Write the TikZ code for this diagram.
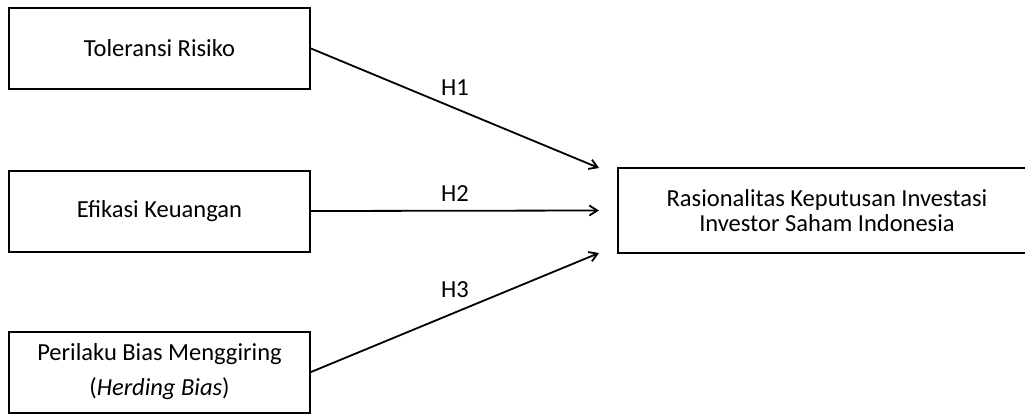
\documentclass[tikz,border=0pt]{standalone}
\usepackage{fontspec}
\setmainfont{Carlito}
\usetikzlibrary{positioning, arrows.meta}

\begin{document}
\begin{tikzpicture}[
    x=0.5pt, y=-0.5pt,
    >={Straight Barb[length=4pt,width=5pt]},
    varbox/.style={
        draw, line width=1pt, inner sep=0pt, align=center,
        minimum width=150.5pt, minimum height=40.5pt,
        font=\fontsize{12.25}{17.5}\selectfont
    },
    % hypothesis arrows
    hyp/.style={->, line width=0.9pt},
    hyplbl/.style={font=\fontsize{12.25}{14}\selectfont, inner sep=4pt},
]
\useasboundingbox (0,0) rectangle (1025,414);
\clip (0,0) rectangle (1025,414);

%% independent variables (left)
\node[varbox] at (159.5, 48.5) (risk) {Toleransi Risiko};
\node[varbox] at (159.5, 211) (efik) {Efikasi Keuangan};
\node[varbox] at (159.5, 372) (herd) {Perilaku Bias Menggiring\\(\textit{Herding Bias})};

%% dependent variable (right), its frame runs off the page edge
\node[varbox, draw=none, minimum width=208pt, minimum height=41.5pt,
      font=\fontsize{12.25}{12.5}\selectfont] at (827, 210.5) (rasio)
  {Rasionalitas Keputusan Investasi\\Investor Saham Indonesia};
\draw[line width=1pt] ([xshift=250pt]rasio.north west) -- (rasio.north west)
  -- (rasio.south west) -- ([xshift=250pt]rasio.south west);

%% arrow ends, just left of the target box
\coordinate (h1end) at ([xshift=-9.5pt]rasio.north west);
\coordinate (h2end) at ([xshift=-9.5pt]rasio.west);
\coordinate (h3end) at ([xshift=-9.5pt]rasio.south west);

%% hypotheses
\draw[hyp] (risk.east) -- node[hyplbl, above=2pt] {H1} (h1end);
\draw[hyp] (efik.east) -- node[hyplbl, above] {H2} (h2end);
\draw[hyp] (herd.east) -- node[hyplbl, above=3pt] {H3} (h3end);

\end{tikzpicture}
\end{document}
